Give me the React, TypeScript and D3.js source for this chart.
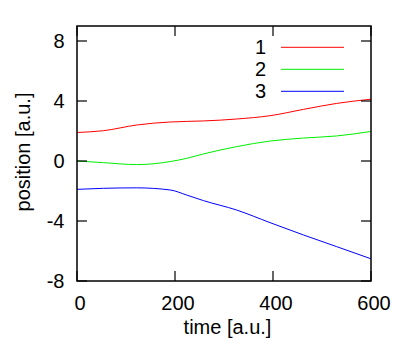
import React from "react";
import * as d3 from "d3";

const times = [0, 54, 122, 190, 224, 258, 326, 394, 462, 530, 600];
const series1 = [1.9, 2.02, 2.4, 2.6, 2.64, 2.67, 2.8, 3.02, 3.44, 3.84, 4.12];
const series2 = [0, -0.11, -0.24, -0.04, 0.18, 0.47, 0.96, 1.33, 1.53, 1.67, 1.97];
const series3 = [-1.89, -1.82, -1.79, -1.93, -2.27, -2.64, -3.27, -4.11, -4.93, -5.71, -6.52];
const seriesNames = ["1", "2", "3"];
const seriesColors = ["#ff0000", "#00ee00", "#0000ff"];
const xTicks = [0, 200, 400, 600];
const yTicks = [-8, -4, 0, 4, 8];

export default function App() {
  const W = 407, H = 341;
  const left = 77, right = 371, top = 26, bottom = 281;
  const x = d3.scaleLinear().domain([0, 600]).range([left, right]);
  const y = d3.scaleLinear().domain([-8, 9]).range([bottom, top]);
  const allSeries = [series1, series2, series3];
  const line = d3
    .line<number>()
    .x((_, i) => x(times[i]))
    .y((d) => y(d))
    .curve(d3.curveMonotoneX);
  const font = "'Liberation Sans', Arial, sans-serif";
  const tickLen = 10;
  const fs = 20;
  return (
    <svg
      width={W}
      height={H}
      style={{ position: "absolute", left: 0, top: 0, background: "#fff" }}
      fontFamily={font}
    >
      {allSeries.map((s, i) => (
        <path key={i} d={line(s) || ""} fill="none" stroke={seriesColors[i]} strokeWidth={1} />
      ))}
      <rect x={left} y={top} width={right - left} height={bottom - top} fill="none" stroke="#000" strokeWidth={1.5} />
      {xTicks.map((t) => (
        <g key={"x" + t}>
          <line x1={x(t)} x2={x(t)} y1={bottom} y2={bottom - tickLen} stroke="#000" strokeWidth={1.2} />
          <line x1={x(t)} x2={x(t)} y1={top} y2={top + tickLen} stroke="#000" strokeWidth={1.2} />
          <text x={x(t) + 3} y={310} textAnchor="middle" fontSize={fs} fill="#000">
            {t}
          </text>
        </g>
      ))}
      {yTicks.map((t) => (
        <g key={"y" + t}>
          <line x1={left} x2={left + tickLen} y1={y(t)} y2={y(t)} stroke="#000" strokeWidth={1.2} />
          <line x1={right} x2={right - tickLen} y1={y(t)} y2={y(t)} stroke="#000" strokeWidth={1.2} />
          <text x={64.5} y={y(t) + 7.3} textAnchor="end" fontSize={fs} fill="#000">
            {t}
          </text>
        </g>
      ))}
      <text x={227.5} y={334} textAnchor="middle" fontSize={fs} fill="#000">
        time [a.u.]
      </text>
      <text
        transform={`translate(30,152) rotate(-90)`}
        textAnchor="middle"
        fontSize={fs}
        fill="#000"
      >
        position [a.u.]
      </text>
      {seriesNames.map((n, i) => (
        <g key={"l" + n}>
          <text x={266} y={54.3 + i * 22} textAnchor="end" fontSize={fs} fill="#000">
            {n}
          </text>
          <line x1={281} x2={344} y1={47.3 + i * 22} y2={47.3 + i * 22} stroke={seriesColors[i]} strokeWidth={1} />
        </g>
      ))}
    </svg>
  );
}
